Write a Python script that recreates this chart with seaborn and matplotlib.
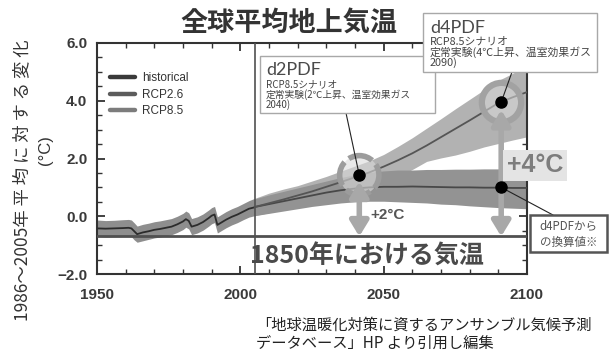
import matplotlib
matplotlib.use("Agg")
import matplotlib.pyplot as plt
import numpy as np
import pandas as pd
import seaborn as sns
from matplotlib.lines import Line2D
from matplotlib.patches import Rectangle
from matplotlib.ticker import MultipleLocator

# ---- observed (historical) global mean surface temperature change ----
hist_year = [1950, 1953, 1956, 1959, 1961, 1962, 1963, 1964, 1966, 1968, 1970,
             1972, 1974, 1976, 1978, 1980, 1981, 1982, 1983, 1985, 1987, 1989,
             1990, 1991, 1992, 1993, 1995, 1997, 1999, 2001, 2003, 2005]
hist_mean = [-0.42, -0.43, -0.42, -0.41, -0.40, -0.42, -0.52, -0.62, -0.56, -0.52,
             -0.47, -0.44, -0.40, -0.36, -0.28, -0.18, -0.10, -0.16, -0.36, -0.30,
             -0.20, -0.06, 0.02, 0.06, -0.30, -0.24, -0.12, -0.02, 0.06, 0.16, 0.26, 0.31]
hist_lo = [-0.70, -0.72, -0.71, -0.70, -0.68, -0.71, -0.82, -0.90, -0.85, -0.80,
           -0.75, -0.72, -0.68, -0.64, -0.56, -0.46, -0.38, -0.44, -0.64, -0.58,
           -0.48, -0.34, -0.26, -0.22, -0.58, -0.52, -0.40, -0.30, -0.22, -0.12, -0.03, 0.02]
hist_hi = [-0.13, -0.15, -0.14, -0.12, -0.11, -0.13, -0.23, -0.34, -0.28, -0.24,
           -0.19, -0.16, -0.12, -0.08, 0.00, 0.10, 0.18, 0.12, -0.08, -0.02,
           0.08, 0.22, 0.30, 0.34, -0.02, 0.04, 0.16, 0.26, 0.34, 0.44, 0.54, 0.62]

# ---- scenario projections ----
proj_year = [2005, 2010, 2015, 2020, 2025, 2030, 2035, 2040, 2045, 2050,
             2055, 2060, 2065, 2070, 2075, 2080, 2085, 2090, 2095, 2100]
rcp85_mean = [0.32, 0.45, 0.58, 0.72, 0.86, 1.02, 1.18, 1.35, 1.52, 1.72,
              1.94, 2.18, 2.45, 2.74, 3.03, 3.32, 3.62, 3.92, 4.12, 4.30]
rcp85_hi = [0.62, 0.80, 0.94, 1.06, 1.22, 1.38, 1.56, 1.74, 1.92, 2.14,
            2.42, 2.72, 3.05, 3.38, 3.72, 4.05, 4.38, 4.70, 4.95, 5.20]
rcp85_lo = [0.02, 0.12, 0.22, 0.32, 0.44, 0.56, 0.70, 0.84, 1.00, 1.16,
            1.38, 1.62, 1.90, 2.02, 2.12, 2.25, 2.40, 2.52, 2.64, 2.75]
rcp26_mean = [0.32, 0.42, 0.52, 0.62, 0.72, 0.82, 0.90, 0.96, 1.00, 1.02,
              1.02, 1.03, 1.02, 1.01, 1.00, 1.00, 0.99, 0.99, 0.98, 0.98]
rcp26_hi = [0.60, 0.74, 0.86, 0.98, 1.10, 1.22, 1.34, 1.44, 1.52, 1.57,
            1.60, 1.60, 1.62, 1.62, 1.63, 1.63, 1.64, 1.64, 1.63, 1.63]
rcp26_lo = [0.02, 0.10, 0.18, 0.26, 0.34, 0.40, 0.46, 0.50, 0.52, 0.52,
            0.50, 0.48, 0.46, 0.42, 0.40, 0.36, 0.33, 0.30, 0.28, 0.26]

baseline_1850 = -0.7          # level of 1850
split_year = 2005             # end of historical run

# experiment points: d2PDF (2040) and d4PDF (2090)
exp_year = [2041.5, 2091.0]
exp_value = [1.42, 3.95]
arrow_top = [1.20, 3.68]
conv_year = 2091.0            # d4PDF converted value
conv_value = 1.0

series_names = ["historical", "RCP2.6", "RCP8.5"]
x_ticks = [1950, 2000, 2050, 2100]
y_ticks = [-2.0, 0.0, 2.0, 4.0, 6.0]
y_tick_labels = ["\u22122.0", "0.0", "2.0", "4.0", "6.0"]

title = "全球平均地上気温"
ylabel_period = "1986～2005"
ylabel_words = "年平均に対する変化"
ylabel_unit = "(°C)"
base_label = "1850年における気温"
caption = ["「地球温暖化対策に資するアンサンブル気候予測",
           "データベース」HP より引用し編集"]

# ---- style ----
sns.set_theme(style="ticks")
plt.rcParams["font.family"] = ["Noto Sans CJK JP", "DejaVu Sans"]
LATIN = ["Liberation Sans", "DejaVu Sans"]

W, H = 614, 354
fig = plt.figure(figsize=(W / 100, H / 100), dpi=100)
fig.patch.set_facecolor("white")


def fx(px):
    return px / W


def fy(py):
    return 1 - py / H


ax = fig.add_axes([fx(97), fy(274), 430 / W, 231 / H])
ax.set_facecolor("white")

# uncertainty bands
ax.fill_between(proj_year, rcp85_lo, rcp85_hi, color="#b2b2b2", lw=0, zorder=1)
ax.fill_between(proj_year, rcp26_lo, rcp26_hi, color="#939393", lw=0, zorder=1.5)
ax.fill_between(hist_year, hist_lo, hist_hi, color="#8e8e8e", lw=0, zorder=1.5)

# ensemble mean lines
df = pd.concat([
    pd.DataFrame({"year": hist_year, "value": hist_mean, "series": "historical"}),
    pd.DataFrame({"year": proj_year, "value": rcp26_mean, "series": "RCP2.6"}),
    pd.DataFrame({"year": proj_year, "value": rcp85_mean, "series": "RCP8.5"}),
])
line_pal = {"historical": "#2c2c2c", "RCP2.6": "#484848", "RCP8.5": "#555555"}
sns.lineplot(data=df, x="year", y="value", hue="series", palette=line_pal,
             estimator=None, sort=False, linewidth=1.3, legend=False, ax=ax,
             zorder=3)
ax.set_xlabel("")
ax.set_ylabel("")

# reference lines
ax.axhline(baseline_1850, color="#505050", lw=2.0, zorder=4)
ax.axvline(split_year, color="#505050", lw=1.2, zorder=4)

# highlight rings around experiment points
ax.scatter([exp_year[0]], [exp_value[0]], s=800, facecolors=[(0.86, 0.86, 0.86, 0.6)],
           edgecolors="#9c9c9c", linewidths=4, linestyles=[(2.4, (4.5, 1.0))], zorder=5)
ax.scatter([exp_year[1]], [exp_value[1]], s=800, facecolors=[(0.86, 0.86, 0.86, 0.55)],
           edgecolors="#a2a2a2", linewidths=4.5, zorder=5)

# warming arrows from the 1850 level
for xa, ya in zip(exp_year, arrow_top):
    ax.annotate("", xy=(xa, ya), xytext=(xa, baseline_1850),
                arrowprops=dict(arrowstyle="<|-|>,head_length=0.9,head_width=0.55",
                                mutation_scale=10, lw=4, color="#a8a8a8",
                                shrinkA=0, shrinkB=0), zorder=6)

# experiment points
ax.plot(exp_year, exp_value, "o", color="black", ms=8, zorder=7)
ax.plot([conv_year], [conv_value], "o", color="black", ms=8, zorder=7)

# axes
ax.set_xlim(1950, 2100)
ax.set_ylim(-2, 6)
ax.set_xticks(x_ticks, [str(v) for v in x_ticks], fontfamily=LATIN,
              fontweight="bold", fontsize=11, color="#3a3a3a")
ax.set_yticks(y_ticks, y_tick_labels, fontfamily=LATIN,
              fontweight="bold", fontsize=11, color="#3a3a3a")
ax.xaxis.set_minor_locator(MultipleLocator(10))
ax.yaxis.set_minor_locator(MultipleLocator(0.5))
ax.tick_params(which="both", direction="in", top=True, right=True, color="#333333")
ax.tick_params(which="major", length=6, width=1.3)
ax.tick_params(which="minor", length=3.5, width=1.0)
ax.tick_params(axis="x", which="major", pad=10)
ax.tick_params(axis="y", which="major", pad=7)
for sp in ax.spines.values():
    sp.set_visible(True)
    sp.set_color("#333333")
    sp.set_linewidth(1.5)

# legend
handles = [Line2D([], [], color=c, lw=3.2, solid_capstyle="round")
           for c in ["#3a3a3a", "#5c5c5c", "#7c7c7c"]]
leg = ax.legend(handles, series_names, loc="upper left",
                bbox_to_anchor=(fx(110), fy(72)), bbox_transform=fig.transFigure,
                frameon=False, borderpad=0, borderaxespad=0, handlelength=2.1,
                handletextpad=0.6, labelspacing=0.4,
                prop={"family": LATIN, "size": 8.5})
for t in leg.get_texts():
    t.set_color("#333333")

# labels in the plot
ax.text(2051.5, 0.05, "+2°C", fontsize=11, fontweight="bold", color="#555555",
        family=LATIN, ha="center", va="center", zorder=8)
fig.text(fx(367), fy(257), base_label, fontsize=18, fontweight="bold",
         color="#4a4a4a", ha="center", va="center", zorder=8)
fig.text(fx(535), fy(165), "+4°C", fontsize=18, fontweight="bold", color="#7d7d7d",
         family=LATIN, ha="center", va="center", zorder=8,
         bbox=dict(facecolor="#e4e4e4", edgecolor="none", pad=2.5))

# leader lines to the experiment boxes
for (xa, ya), (bx, by) in zip([(exp_year[0], exp_value[0]),
                               (exp_year[1], exp_value[1]),
                               (conv_year, conv_value)],
                              [(346, 113), (512, 72), (553, 215)]):
    ax.annotate("", xy=(xa, ya), xytext=(fx(bx), fy(by)),
                textcoords="figure fraction",
                arrowprops=dict(arrowstyle="-", lw=0.8, color="#222222",
                                shrinkA=0, shrinkB=0), zorder=6)


# experiment boxes
def box(x0, y0, x1, y1, ec, lw):
    fig.add_artist(Rectangle((fx(x0), fy(y1)), (x1 - x0) / W, (y1 - y0) / H,
                             transform=fig.transFigure, facecolor="white",
                             edgecolor=ec, lw=lw, zorder=9))


box(260, 56, 435, 113, "#a8a8a8", 1.0)
fig.text(fx(266), fy(70), "d2PDF", fontsize=13, color="#4a4a4a", va="center",
         family=["Lato", "DejaVu Sans"], zorder=10)
fig.text(fx(266), fy(84.5), "RCP8.5シナリオ", fontsize=7, color="#444444",
         va="center", zorder=10)
fig.text(fx(266), fy(95), "定常実験(2℃上昇、温室効果ガス", fontsize=7,
         color="#444444", va="center", zorder=10)
fig.text(fx(266), fy(105), "2040)", fontsize=7, color="#444444",
         va="center", zorder=10)

box(423, 13, 597, 72, "#a8a8a8", 1.0)
fig.text(fx(430), fy(28), "d4PDF", fontsize=13, color="#4a4a4a", va="center",
         family=["Lato", "DejaVu Sans"], zorder=10)
fig.text(fx(430), fy(42), "RCP8.5シナリオ", fontsize=7.8, color="#444444",
         va="center", zorder=10)
fig.text(fx(430), fy(52.5), "定常実験(4℃上昇、温室効果ガス", fontsize=7.8,
         color="#444444", va="center", zorder=10)
fig.text(fx(430), fy(63), "2090)", fontsize=7.8, color="#444444",
         va="center", zorder=10)

box(530, 215, 607, 252, "#555555", 1.8)
fig.text(fx(568.5), fy(226), "d4PDFから", fontsize=8.3, color="#555555",
         ha="center", va="center", zorder=10)
fig.text(fx(568.5), fy(242), "の換算値※", fontsize=8.3, color="#555555",
         ha="center", va="center", zorder=10)

# title, axis label, caption
fig.text(fx(289), fy(23), title, fontsize=19.5, fontweight="bold", color="#333333",
         ha="center", va="center")
# the vertical label is set with widened tracking between the kanji
fig.text(fx(22), fy(180), ylabel_period + " ".join(ylabel_words), fontsize=12.5,
         color="#333333", rotation=90, ha="center", va="center")
fig.text(fx(45), fy(150), ylabel_unit, fontsize=12, color="#333333",
         family=LATIN, rotation=90, ha="center", va="center")
fig.text(fx(256), fy(325), caption[0], fontsize=11, color="#222222",
         ha="left", va="center")
fig.text(fx(256), fy(343), caption[1], fontsize=11, color="#222222",
         ha="left", va="center")

fig.savefig("out.png", dpi=100, facecolor="white")
